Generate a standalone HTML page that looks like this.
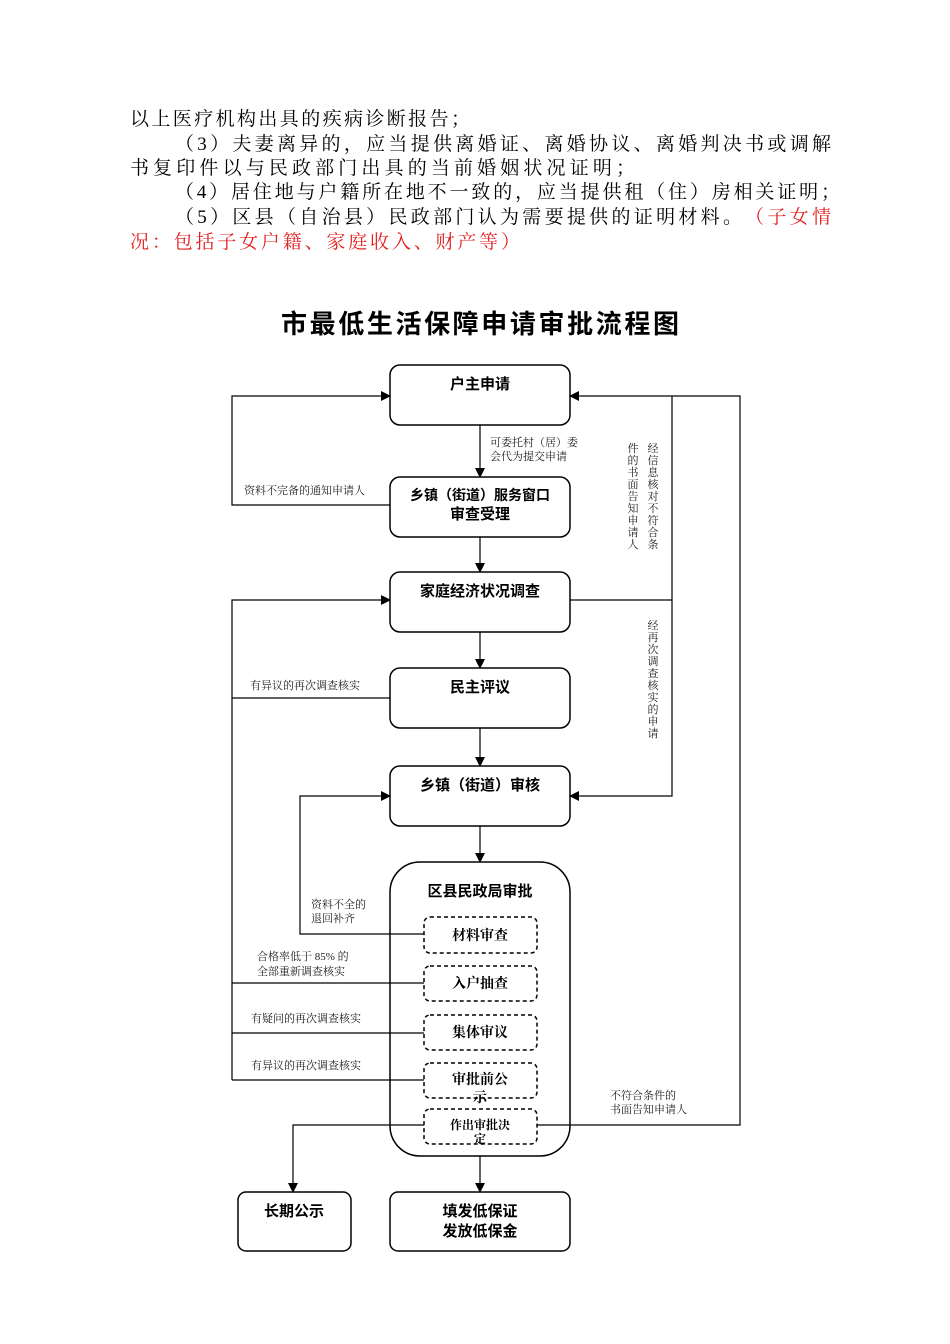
<!DOCTYPE html>
<html><head><meta charset="utf-8"><style>
html,body{margin:0;padding:0;background:#fff;}
svg{display:block;}
text{font-family:"Liberation Serif","Noto Serif CJK SC","Noto Sans CJK SC",serif;}
.b, .b text{font-family:"Liberation Sans","Noto Sans CJK SC","WenQuanYi Zen Hei",sans-serif;font-weight:bold;}
.s, .s text{font-family:"Liberation Serif","Noto Serif CJK SC",serif;font-size:11px;fill:#222;}
</style></head><body>
<svg width="950" height="1344" viewBox="0 0 950 1344" xmlns="http://www.w3.org/2000/svg">
<defs><marker id="a" markerWidth="10" markerHeight="10" refX="9" refY="5" orient="auto" markerUnits="userSpaceOnUse"><path d="M0,0 L10,5 L0,10 z" fill="#000"/></marker></defs>
<g font-size="19" fill="#000">
<text x="130" y="125" textLength="340" lengthAdjust="spacing">以上医疗机构出具的疾病诊断报告；</text>
<text x="175" y="150" textLength="656" lengthAdjust="spacing">（3）夫妻离异的，应当提供离婚证、离婚协议、离婚判决书或调解</text>
<text x="130" y="174" textLength="505" lengthAdjust="spacing">书复印件以与民政部门出具的当前婚姻状况证明；</text>
<text x="175" y="198" textLength="665" lengthAdjust="spacing">（4）居住地与户籍所在地不一致的，应当提供租（住）房相关证明；</text>
<text x="175" y="223" textLength="567" lengthAdjust="spacing">（5）区县（自治县）民政部门认为需要提供的证明材料。</text>
<text x="745" y="223" fill="#e02020" textLength="86" lengthAdjust="spacing">（子女情</text>
<text x="130" y="248" fill="#e02020" textLength="390" lengthAdjust="spacing">况：包括子女户籍、家庭收入、财产等）</text>
</g>
<text x="480" y="333" class="b" font-size="26" text-anchor="middle" textLength="398" lengthAdjust="spacing">市最低生活保障申请审批流程图</text>

<g fill="none" stroke="#000" stroke-width="1.5">
<rect x="390" y="365" width="180" height="60" rx="10"/>
<rect x="390" y="477" width="180" height="60" rx="10"/>
<rect x="390" y="572" width="180" height="60" rx="10"/>
<rect x="390" y="668" width="180" height="60" rx="10"/>
<rect x="390" y="766" width="180" height="60" rx="10"/>
<rect x="390" y="862" width="180" height="294" rx="30"/>
<rect x="238" y="1192" width="113" height="59" rx="8"/>
<rect x="390" y="1192" width="180" height="59" rx="8"/>
<g stroke-dasharray="4,3">
<rect x="424" y="917" width="113" height="36" rx="6"/>
<rect x="424" y="966" width="113" height="35" rx="6"/>
<rect x="424" y="1015" width="113" height="35" rx="6"/>
<rect x="424" y="1063" width="113" height="35" rx="6"/>
<rect x="424" y="1109" width="113" height="35" rx="6"/>
</g>
</g>
<g fill="none" stroke="#000" stroke-width="1.2">
<line x1="480" y1="425" x2="480" y2="477" marker-end="url(#a)"/>
<line x1="480" y1="537" x2="480" y2="572" marker-end="url(#a)"/>
<line x1="480" y1="632" x2="480" y2="668" marker-end="url(#a)"/>
<line x1="480" y1="728" x2="480" y2="766" marker-end="url(#a)"/>
<line x1="480" y1="826" x2="480" y2="862" marker-end="url(#a)"/>
<line x1="480" y1="1156" x2="480" y2="1192" marker-end="url(#a)"/>
<polyline points="390,505 232,505 232,396 390,396" marker-end="url(#a)"/>
<polyline points="232,1080 232,600 390,600" marker-end="url(#a)"/>
<line x1="232" y1="698" x2="390" y2="698"/>
<line x1="232" y1="983" x2="424" y2="983"/>
<line x1="232" y1="1033" x2="424" y2="1033"/>
<line x1="232" y1="1080" x2="424" y2="1080"/>
<polyline points="424,934 300,934 300,796 390,796" marker-end="url(#a)"/>
<polyline points="672,396 672,796 570,796" marker-end="url(#a)"/>
<line x1="672" y1="396" x2="570" y2="396" marker-end="url(#a)"/>
<line x1="570" y1="600" x2="672" y2="600"/>
<polyline points="537,1125 740,1125 740,396 672,396"/>
<polyline points="424,1125 293,1125 293,1192" marker-end="url(#a)"/>
</g>
<g class="b" font-size="15" text-anchor="middle">
<text x="480" y="389">户主申请</text>
<text x="480" y="500" font-size="14">乡镇（街道）服务窗口</text>
<text x="480" y="519">审查受理</text>
<text x="480" y="596">家庭经济状况调查</text>
<text x="480" y="692">民主评议</text>
<text x="480" y="790">乡镇（街道）审核</text>
<text x="480" y="896">区县民政局审批</text>
<text x="294" y="1216">长期公示</text>
<text x="480" y="1216">填发低保证</text>
<text x="480" y="1236">发放低保金</text>
</g>
<g font-size="14" font-weight="bold" text-anchor="middle">
<text x="480" y="940">材料审查</text>
<text x="480" y="988">入户抽查</text>
<text x="480" y="1037">集体审议</text>
<text x="480" y="1084">审批前公</text>
<text x="480" y="1102">示</text>
<text x="480" y="1129" font-size="12">作出审批决</text>
<text x="480" y="1143" font-size="12">定</text>
</g>
<g class="s">
<text x="490" y="446">可委托村（居）委</text>
<text x="490" y="460">会代为提交申请</text>
<text x="244" y="494">资料不完备的通知申请人</text>
<text x="250" y="689">有异议的再次调查核实</text>
<text x="311" y="908">资料不全的</text>
<text x="311" y="922">退回补齐</text>
<text x="257" y="960">合格率低于 85% 的</text>
<text x="257" y="975">全部重新调查核实</text>
<text x="251" y="1022">有疑问的再次调查核实</text>
<text x="251" y="1069">有异议的再次调查核实</text>
<text x="610" y="1099">不符合条件的</text>
<text x="610" y="1113">书面告知申请人</text>
</g>
<g class="s" text-anchor="middle">
<text x="653" y="452">经</text><text x="653" y="464">信</text><text x="653" y="476">息</text><text x="653" y="488">核</text><text x="653" y="500">对</text><text x="653" y="512">不</text><text x="653" y="524">符</text><text x="653" y="536">合</text><text x="653" y="548">条</text>
<text x="633" y="452">件</text><text x="633" y="464">的</text><text x="633" y="476">书</text><text x="633" y="488">面</text><text x="633" y="500">告</text><text x="633" y="512">知</text><text x="633" y="524">申</text><text x="633" y="536">请</text><text x="633" y="548">人</text>
<text x="653" y="629">经</text><text x="653" y="641">再</text><text x="653" y="653">次</text><text x="653" y="665">调</text><text x="653" y="677">查</text><text x="653" y="689">核</text><text x="653" y="701">实</text><text x="653" y="713">的</text><text x="653" y="725">申</text><text x="653" y="737">请</text>
</g>
</svg>
</body></html>
